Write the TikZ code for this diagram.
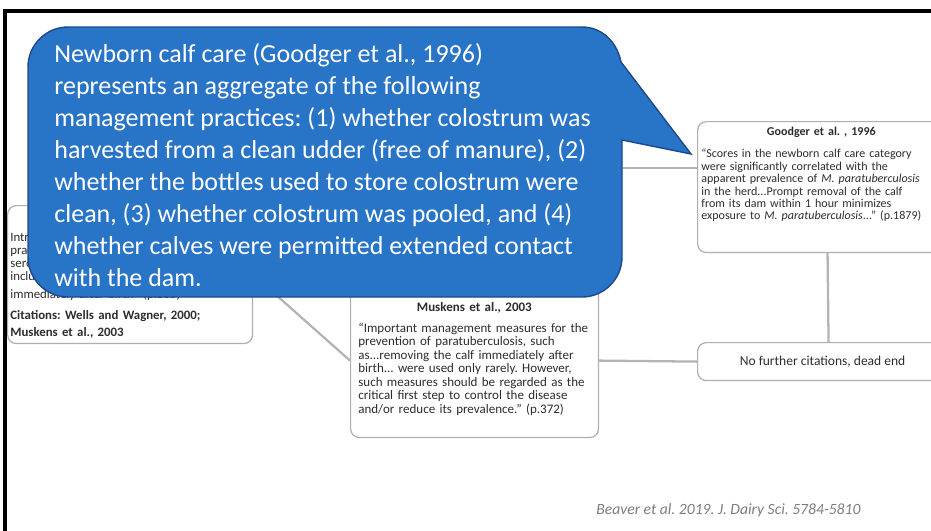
\documentclass[tikz,border=0pt]{standalone}
\usepackage{fontspec}
\setmainfont{Carlito}
\usetikzlibrary{positioning}
\definecolor{calloutblue}{RGB}{40,116,198}
\definecolor{calloutedge}{RGB}{28,72,140}
\definecolor{cardedge}{RGB}{175,175,175}
\definecolor{linkgray}{RGB}{180,180,184}
\definecolor{cardink}{RGB}{45,45,45}
\definecolor{sourcegray}{RGB}{125,125,125}
\frenchspacing

\begin{document}
\begin{tikzpicture}[x=0.02cm, y=-0.02cm,
  card/.style={draw=cardedge, line width=0.7pt, rounded corners=5pt, fill=white, anchor=north west},
  cardtext/.style={align=left, anchor=north west, inner sep=0pt, text=cardink},
  link/.style={draw=linkgray, line width=1.3pt},
  bubble/.style={fill=calloutblue, draw=calloutedge, line width=0.8pt}
]
  \useasboundingbox (0,0) rectangle (931,531);

  % frame of the slide
  \draw[line width=2.6pt] (5,545) -- (5,11) -- (945,11);

  % citation cards
  \node[card, minimum width=4.96cm, minimum height=2.62cm] (goodger) at (697,121) {};
  \node[cardtext, text width=4.8cm, font=\fontsize{6.85}{7.05}\selectfont] (goodgertext) at ([shift={(4,6)}]goodger.north west) {%
    \makebox[\hsize]{\bfseries Goodger et al. , 1996}\\[5.5pt]
    ``Scores in the newborn calf care category\\
    were significantly correlated with the\\
    apparent prevalence of \textit{M. paratuberculosis}\\
    in the herd...Prompt removal of the calf\\
    from its dam within 1 hour minimizes\\
    exposure to \textit{M. paratuberculosis}...'' (p.1879)};

  \node[card, minimum width=4.9cm, minimum height=2.76cm] (wells) at (7,205) {};
  \node[cardtext, text width=4.7cm, font=\fontsize{7.3}{7.4}\selectfont] (wellstext) at ([shift={(3,27)}]wells.north west) {%
    Introduction of management\\
    practices lowered herd\\
    seroprevalence; ``these practices\\
    included removing calves\\[3pt]
    immediately after birth'' (p.505)\\[4.5pt]
    \textbf{Citations: Wells and Wagner, 2000;}\\[2.5pt]
    \textbf{Muskens et al., 2003}};

  \node[card, minimum width=4.96cm, minimum height=3.08cm] (muskens) at (350,283) {};
  \node[cardtext, text width=4.64cm, font=\fontsize{7.4}{7.7}\selectfont] (muskenstext) at ([shift={(8,19)}]muskens.north west) {%
    \makebox[\hsize]{\bfseries Muskens et al., 2003}\\[4pt]
    ``Important management measures for the\\
    prevention of paratuberculosis, such\\
    as...removing the calf immediately after\\
    birth... were used only rarely. However,\\
    such measures should be regarded as the\\
    critical first step to control the disease\\
    and/or reduce its prevalence.'' (p.372)};

  \node[card, minimum width=5cm, minimum height=0.76cm, text=cardink, font=\fontsize{7.7}{9}\selectfont] (deadend) at (697,342) {No further citations, dead end};

  % connectors
  \coordinate (hub) at (560,168);
  \draw[link] (hub) -- (hub -| goodger.west);
  \draw[link] ([xshift=3.4pt]goodger.south) -- ([xshift=3.4pt]deadend.north);
  \draw[link] (muskens.east) -- (deadend.west);
  \draw[link] (wells.east) -- (muskens.west);

  % callout
  \path[bubble] (28,67) .. controls (28,45) and (46,27) .. (68,27)
    -- (582,27) .. controls (602,27) and (617,42) .. (621,62)
    -- (691,154) -- (622,140)
    -- (622,257) .. controls (622,279) and (604,297) .. (582,297)
    -- (68,297) .. controls (46,297) and (28,279) .. (28,257) -- cycle;
  \node[anchor=north west, text=white, align=left, inner sep=0pt, font=\fontsize{14.8}{18.2}\selectfont] (bubbletext) at (54,43) {%
    Newborn calf care (Goodger et al., 1996)\\
    represents an aggregate of the following\\
    management practices: (1) whether colostrum was\\
    harvested from a clean udder (free of manure), (2)\\
    whether the bottles used to store colostrum were\\
    clean, (3) whether colostrum was pooled, and (4)\\
    whether calves were permitted extended contact\\
    with the dam.};

  % source line
  \node[anchor=west, inner sep=0pt, text=sourcegray, font=\itshape\fontsize{8.9}{10}\selectfont] (source) at (596,510) {Beaver et al. 2019. J. Dairy Sci. 5784-5810};
\end{tikzpicture}
\end{document}
